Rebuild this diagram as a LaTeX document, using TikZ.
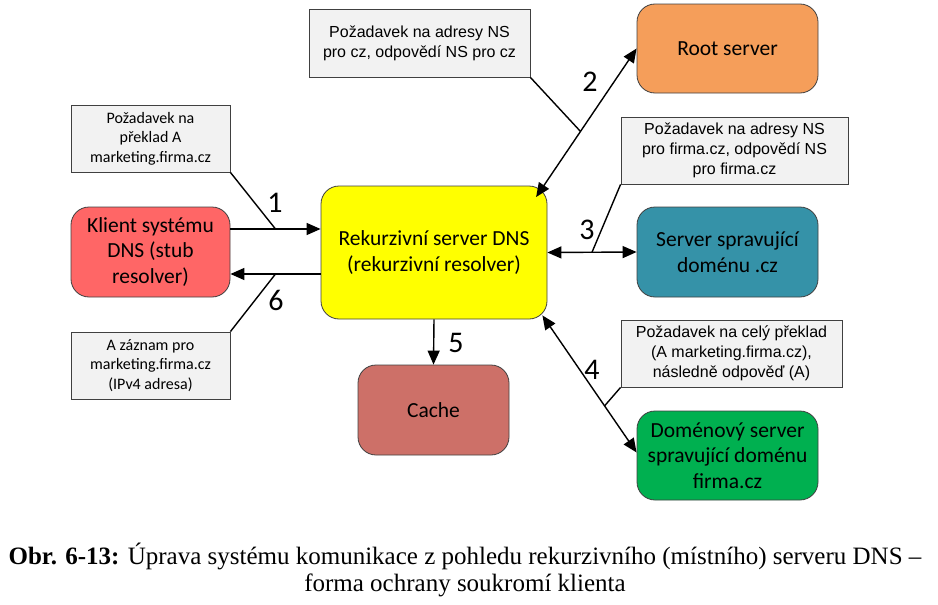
\documentclass[tikz,border=0pt]{standalone}
\usepackage{fontspec}
\setmainfont{Carlito}
\newfontfamily\arialf{Liberation Sans}
\newfontfamily\timesf{Liberation Serif}
\usetikzlibrary{arrows.meta}
\definecolor{cRed}{HTML}{FF6666}
\definecolor{cYellow}{HTML}{FFFF00}
\definecolor{cOrange}{HTML}{F59E5A}
\definecolor{cTeal}{HTML}{3592A8}
\definecolor{cGreen}{HTML}{00B050}
\definecolor{cCache}{HTML}{CD7068}
\definecolor{cGrey}{HTML}{F2F2F2}
\definecolor{cBorder}{HTML}{404040}
\tikzset{
  srv/.style={draw=cBorder, line width=0.8pt, rounded corners=18pt, align=center, inner sep=2pt,
    font=\fontsize{21.5}{25.5}\selectfont},
  note/.style={draw=cBorder, line width=0.8pt, fill=cGrey, align=center, inner sep=2pt,
    font=\arialf\fontsize{16}{20}\selectfont},
  notec/.style={note, font=\fontsize{16}{19.5}\selectfont},
  arr/.style={line width=1.4pt, -{Triangle[length=14pt,width=12pt]}},
  darr/.style={line width=1.4pt, {Triangle[length=14pt,width=12pt]}-{Triangle[length=14pt,width=12pt]}},
  call/.style={line width=1.4pt},
  num/.style={font=\fontsize{30}{30}\selectfont, inner sep=0pt}
}
\begin{document}
\begin{tikzpicture}[x=1pt,y=-1pt]
\useasboundingbox (0,0) rectangle (938,605);
% notes
\node[notec, minimum width=159, minimum height=67] (n1) at (150.5,138.5) {Požadavek na\\překlad A\\marketing.firma.cz};
\node[notec, minimum width=159, minimum height=67] (n6) at (150.5,365.5) {A záznam pro\\marketing.firma.cz\\(IPv4 adresa)};
\node[note, minimum width=221, minimum height=68] (n2) at (419.5,43) {Požadavek na adresy NS\\pro cz, odpovědí NS pro cz};
\node[note, minimum width=227, minimum height=67] (n3) at (734.5,150.5) {Požadavek na adresy NS\\pro firma.cz, odpovědí NS\\pro firma.cz};
\node[note, minimum width=221, minimum height=67] (n4) at (731.5,353.5) {Požadavek na celý překlad\\(A marketing.firma.cz),\\následně odpověď (A)};
% servers
\node[srv, fill=cRed, minimum width=159, minimum height=90] (klient) at (150.5,252) {Klient systému\\DNS (stub\\resolver)};
\node[srv, fill=cYellow, minimum width=226, minimum height=133] (rek) at (434,252.5) {Rekurzivní server DNS\\(rekurzivní resolver)};
\node[srv, fill=cOrange, minimum width=181, minimum height=89] (root) at (727.5,48.5) {Root server};
\node[srv, fill=cTeal, minimum width=181, minimum height=90] (cz) at (727.5,252) {Server spravující\\doménu .cz};
\node[srv, fill=cGreen, minimum width=181, minimum height=89] (firma) at (727.5,455.5) {Doménový server\\spravující doménu\\firma.cz};
\node[srv, fill=cCache, minimum width=151, minimum height=90] (cache) at (433.5,410) {Cache};
% arrows
\draw[arr] ([yshift=23pt]klient.east) -- coordinate[pos=0.5] (c1) ([yshift=23.5pt]rek.west);
\draw[arr] ([yshift=-21.5pt]rek.west) -- coordinate[pos=0.5] (c6) ([yshift=-22pt]klient.east);
\draw[darr, shorten <=-0.5pt] ([xshift=-11pt,yshift=-11pt]rek.north east) -- coordinate[pos=0.44] (c2) (root.west);
\draw[darr] (rek.east) -- coordinate[pos=0.5] (c3) (cz.west);
\draw[darr] ([xshift=-5pt,yshift=4pt]rek.south east) -- coordinate[pos=0.66] (c4) ([yshift=3pt]firma.west);
\draw[arr] (rek.south) -- (cache.north);
% callouts
\draw[call] (n1.south east) -- (c1);
\draw[call] (n6.north east) -- (c6);
\draw[call] (n2.south east) -- (c2);
\draw[call] (n3.south west) -- (c3);
\draw[call] (n4.south west) -- (c4);
% numbers
\node[num] (l1) at (275,203) {1};
\node[num] (l6) at (276,300) {6};
\node[num] (l2) at (590,82) {2};
\node[num] (l3) at (587,230) {3};
\node[num] (l4) at (592,370) {4};
\node[num] (l5) at (456,343) {5};
% caption
\node[font=\timesf\fontsize{25}{27}\selectfont, align=center, inner sep=0pt] (cap) at (465,570)
 {\textbf{Obr. 6-13:} Úprava systému komunikace z pohledu rekurzivního (místního) serveru DNS –\\forma ochrany soukromí klienta};
\end{tikzpicture}
\end{document}
